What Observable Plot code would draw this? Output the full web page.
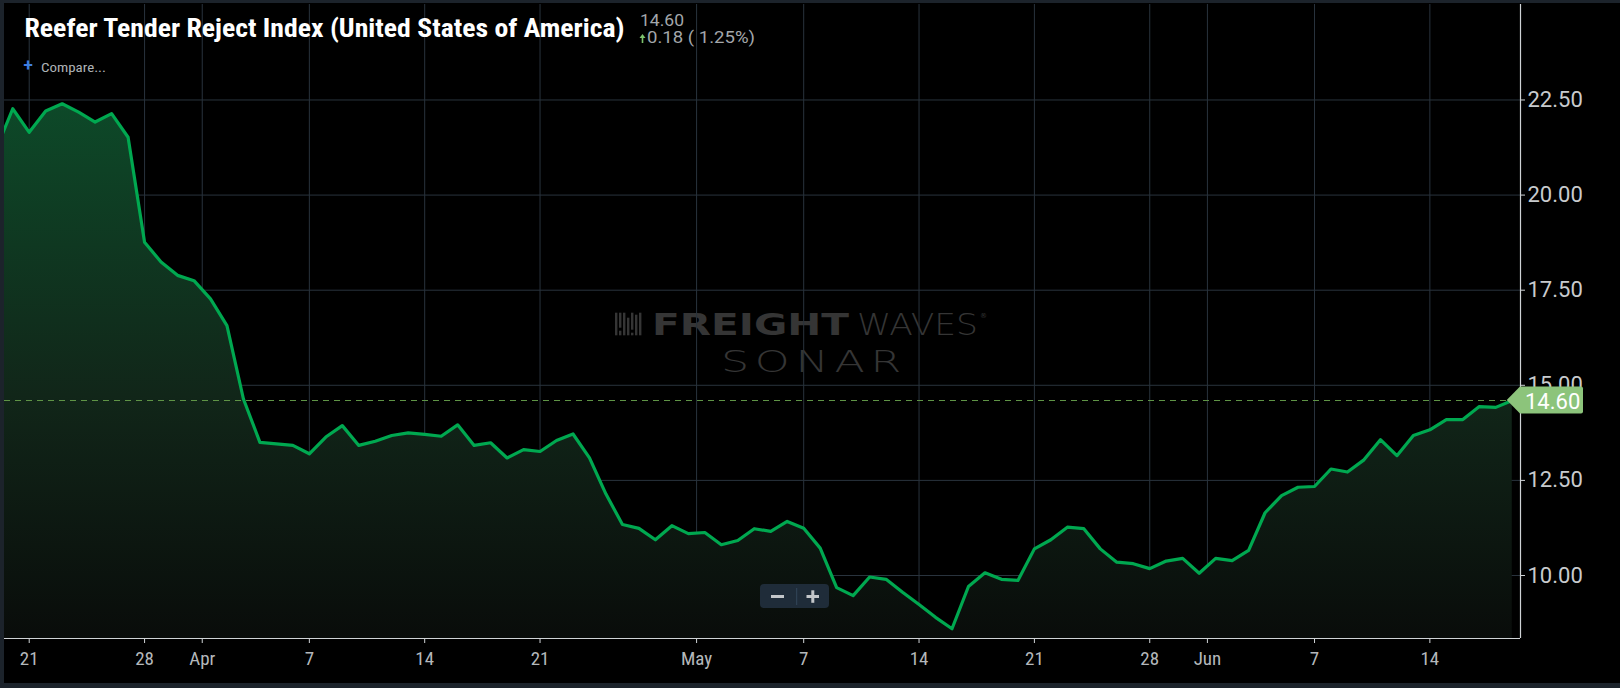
<!DOCTYPE html>
<html>
<head>
<meta charset="utf-8">
<script src="https://cdn.jsdelivr.net/npm/d3@7"></script>
<script src="https://cdn.jsdelivr.net/npm/@observablehq/plot@0.6"></script>
<style>
  html, body { margin: 0; padding: 0; background: #1c232b; }
  #page { position: relative; width: 1620px; height: 688px; overflow: hidden; background: #1c232b; }
  #inner { position: absolute; left: 4px; top: 3px; right: 0; bottom: 5px; background: #000; }
  .layer { position: absolute; left: 0; top: 0; }
</style>
</head>
<body>
<div id="page">
  <div id="inner"></div>
  <svg id="watermark" class="layer" width="1620" height="688"></svg>
  <div id="chart" class="layer"></div>
  <svg id="overlay" class="layer" width="1620" height="688"></svg>
</div>
<script>
// ---- data (Reefer Tender Reject Index, %, daily, 2020) ----
const year = 2020;
const marStartDay = 19;
const marValues = [21.21, 22.27, 21.65, 22.21, 22.40, 22.18, 21.92, 22.14, 21.52, 18.76, 18.24, 17.89, 17.75];
const aprValues = [17.27, 16.57, 14.64, 13.50, 13.46, 13.42, 13.20, 13.64, 13.94, 13.42,
                   13.53, 13.68, 13.75, 13.71, 13.66, 13.96, 13.42, 13.49, 13.09, 13.31,
                   13.26, 13.55, 13.72, 13.09, 12.14, 11.34, 11.24, 10.94, 11.31, 11.10];
const mayValues = [11.13, 10.81, 10.92, 11.23, 11.16, 11.42, 11.24, 10.72, 9.68, 9.47,
                   9.96, 9.90, 9.56, 9.24, 8.90, 8.60, 9.71, 10.07, 9.90, 9.87,
                   10.70, 10.94, 11.27, 11.23, 10.70, 10.35, 10.31, 10.18, 10.38, 10.45, 10.06];
const junValues = [10.45, 10.39, 10.66, 11.65, 12.10, 12.32, 12.34, 12.80, 12.72, 13.04,
                   13.57, 13.15, 13.68, 13.83, 14.10, 14.10, 14.44, 14.42, 14.60];

const xTickDates = ["2020-03-21", "2020-03-28", "2020-03-31T12:00Z", "2020-04-07", "2020-04-14", "2020-04-21",
                    "2020-04-30T12:00Z", "2020-05-07", "2020-05-14", "2020-05-21", "2020-05-28",
                    "2020-05-31T12:00Z", "2020-06-07", "2020-06-14"];
const xTickLabels = ["21", "28", "Apr", "7", "14", "21", "May", "7", "14", "21", "28", "Jun", "7", "14"];
const yTicks = [10, 12.5, 15, 17.5, 20, 22.5];
const xDomain = ["2020-03-19T12:00Z", "2020-06-19T12:00Z"];
const yDomain = [8.344, 25.01];

const titleText = "Reefer Tender Reject Index (United States of America)";
const lastText = "14.60";
const changeText = "0.18 ( 1.25%)";
const compareText = "Compare...";

// ---- build table ----
function monthSeries(m, startDay, values) {
  return values.map((v, i) => ({date: new Date(Date.UTC(year, m, startDay + i)), value: v}));
}
const series = [
  ...monthSeries(2, marStartDay, marValues),
  ...monthSeries(3, 1, aprValues),
  ...monthSeries(4, 1, mayValues),
  ...monthSeries(5, 1, junValues)
];
const last = series[series.length - 1];
const xTicks = xTickDates.map(s => new Date(s.length === 10 ? s + "T00:00Z" : s));
const labelByTime = new Map(xTicks.map((d, i) => [+d, xTickLabels[i]]));

const defsMark = () => {
  const g = d3.create("svg:defs");
  const lg = g.append("linearGradient").attr("id", "areaGrad")
    .attr("gradientUnits", "userSpaceOnUse").attr("x1", 0).attr("x2", 0).attr("y1", 95).attr("y2", 640);
  lg.append("stop").attr("offset", 0).attr("stop-color", "#0d4a29");
  lg.append("stop").attr("offset", 0.55).attr("stop-color", "#112619");
  lg.append("stop").attr("offset", 1).attr("stop-color", "#090c0a");
  return g.node();
};

const tagMark = (index, scales) => {
  const y = scales.y(last.value);
  const x0 = scales.x(last.date) - 5;
  const xr = 1520;
  const h = 13.5;
  const g = d3.create("svg:g");
  g.append("path")
    .attr("d", `M${x0},${y} L${xr},${y - h} L${xr + 61},${y - h} Q${xr + 63},${y - h} ${xr + 63},${y - h + 2} L${xr + 63},${y + h - 2} Q${xr + 63},${y + h} ${xr + 61},${y + h} L${xr},${y + h} Z`)
    .attr("fill", "#8cc47b");
  g.append("text").attr("x", xr + 5).attr("y", y + 1).attr("dy", "0.35em")
    .attr("text-anchor", "start")
    .attr("fill", "#ffffff").attr("font-size", 22).attr("font-family", "Roboto, sans-serif")
    .text(lastText);
  return g.node();
};

const gridColor = "#29333d";
const axisColor = "#cfd3d6";

const chart = Plot.plot({
  width: 1620,
  height: 688,
  marginLeft: 4,
  marginRight: 100,
  marginTop: 4,
  marginBottom: 50,
  style: {background: "transparent", overflow: "visible"},
  x: {type: "utc", domain: xDomain.map(s => new Date(s)), label: null},
  y: {domain: yDomain, label: null},
  marks: [
    defsMark,
    Plot.gridX(xTicks, {stroke: gridColor, strokeOpacity: 1}),
    Plot.gridY(yTicks, {stroke: gridColor, strokeOpacity: 1}),
    Plot.areaY(series, {x: "date", y: "value", fill: "url(#areaGrad)", clip: true}),
    Plot.ruleY([last.value], {stroke: "#5f9446", strokeDasharray: "6,5", strokeWidth: 1}),
    Plot.lineY(series, {x: "date", y: "value", stroke: "#00a850", strokeWidth: 3.2, clip: true}),
    Plot.ruleY([yDomain[0]], {stroke: axisColor, strokeWidth: 1.2}),
    Plot.ruleX([new Date(xDomain[1])], {stroke: axisColor, strokeWidth: 1.2}),
    Plot.axisX({ticks: xTicks, tickFormat: d => labelByTime.get(+d), tickSize: 5, tickPadding: 8, label: null,
      fontSize: 19, fill: "#b4b8bb", stroke: axisColor,
      fontFamily: "'Roboto Condensed', 'Liberation Sans Narrow', 'DejaVu Sans Condensed', sans-serif"}),
    Plot.axisY({anchor: "right", ticks: yTicks, tickFormat: d => d.toFixed(2), tickSize: 4, tickPadding: 3, label: null,
      fontSize: 22, fill: "#c8cbce", stroke: axisColor, fontFamily: "Roboto, sans-serif"}),
    tagMark
  ]
});
document.getElementById("chart").appendChild(chart);

// ---- watermark (behind chart) ----
const wm = d3.select("#watermark");
const wmColor = "#353535";
const icon = wm.append("g").attr("fill", wmColor);
[0, 4, 8, 12, 16, 20, 24].forEach((dx, i) => {
  const breaks = [[0, 22.6], [0, 15, 18, 22.6], [0, 22.6], [5, 22.6], [0, 17, 20, 22.6], [2, 22.6], [0, 22.6]][i];
  for (let k = 0; k < breaks.length; k += 2) {
    icon.append("rect").attr("x", 615 + dx).attr("y", 312.7 + breaks[k]).attr("width", 2.4).attr("height", breaks[k + 1] - breaks[k]);
  }
});
wm.append("text").attr("x", 652).attr("y", 335.3).attr("fill", wmColor)
  .attr("font-family", "'DejaVu Sans', sans-serif").attr("font-weight", 900).attr("font-size", 31)
  .attr("textLength", 197).attr("lengthAdjust", "spacingAndGlyphs").text("FREIGHT");
wm.append("text").attr("x", 857).attr("y", 335.3).attr("fill", wmColor)
  .attr("font-family", "'DejaVu Sans', sans-serif").attr("font-weight", 200).attr("font-size", 31)
  .attr("textLength", 121).attr("lengthAdjust", "spacingAndGlyphs").text("WAVES");
wm.append("text").attr("x", 980).attr("y", 318).attr("fill", wmColor)
  .attr("font-family", "'DejaVu Sans', sans-serif").attr("font-size", 7).text("®");
wm.append("text").attr("x", 721).attr("y", 372).attr("fill", wmColor)
  .attr("font-family", "'DejaVu Sans', sans-serif").attr("font-weight", 200).attr("font-size", 31)
  .attr("letter-spacing", 4)
  .attr("textLength", 186).attr("lengthAdjust", "spacingAndGlyphs").text("SONAR");

// ---- overlay: header and zoom buttons ----
const ov = d3.select("#overlay");
ov.append("text").attr("x", 24.5).attr("y", 36.7).attr("fill", "#ffffff")
  .attr("font-family", "'Roboto Condensed', 'Liberation Sans Narrow', 'DejaVu Sans Condensed', sans-serif")
  .attr("font-weight", 700).attr("font-size", 25)
  .attr("textLength", 600).attr("lengthAdjust", "spacingAndGlyphs").text(titleText);
ov.append("text").attr("x", 640).attr("y", 26).attr("fill", "#a3a7ab")
  .attr("font-family", "Roboto, sans-serif").attr("font-size", 16.5)
  .attr("textLength", 44).attr("lengthAdjust", "spacingAndGlyphs").text(lastText);
ov.append("path").attr("d", "M639.5,38 L642.5,34 L645.5,38 L643.3,38 L643.3,43 L641.7,43 L641.7,38 Z").attr("fill", "#7cc26d");
ov.append("text").attr("x", 647).attr("y", 43.3).attr("fill", "#a3a7ab")
  .attr("font-family", "Roboto, sans-serif").attr("font-size", 16.5)
  .attr("textLength", 108).attr("lengthAdjust", "spacingAndGlyphs").text(changeText);
ov.append("text").attr("x", 23.5).attr("y", 71).attr("fill", "#3f7fe0")
  .attr("font-family", "Roboto, sans-serif").attr("font-weight", 700).attr("font-size", 17).text("+");
ov.append("text").attr("x", 41).attr("y", 71.5).attr("fill", "#aeb2b6")
  .attr("font-family", "'Roboto Condensed', 'Liberation Sans Narrow', 'DejaVu Sans Condensed', sans-serif")
  .attr("font-size", 13).attr("textLength", 65).attr("lengthAdjust", "spacingAndGlyphs").text(compareText);

const btn = ov.append("g");
btn.append("rect").attr("x", 760).attr("y", 584).attr("width", 69).attr("height", 24).attr("rx", 4).attr("fill", "#1f2c39");
btn.append("line").attr("x1", 796.7).attr("x2", 796.7).attr("y1", 588).attr("y2", 605).attr("stroke", "#33475a").attr("stroke-width", 1);
btn.append("rect").attr("x", 771).attr("y", 595).attr("width", 13).attr("height", 3).attr("fill", "#c3c6c9");
btn.append("rect").attr("x", 806.5).attr("y", 595).attr("width", 12.5).attr("height", 3).attr("fill", "#c3c6c9");
btn.append("rect").attr("x", 811.3).attr("y", 590.3).attr("width", 3).attr("height", 12.5).attr("fill", "#c3c6c9");
</script>
</body>
</html>
